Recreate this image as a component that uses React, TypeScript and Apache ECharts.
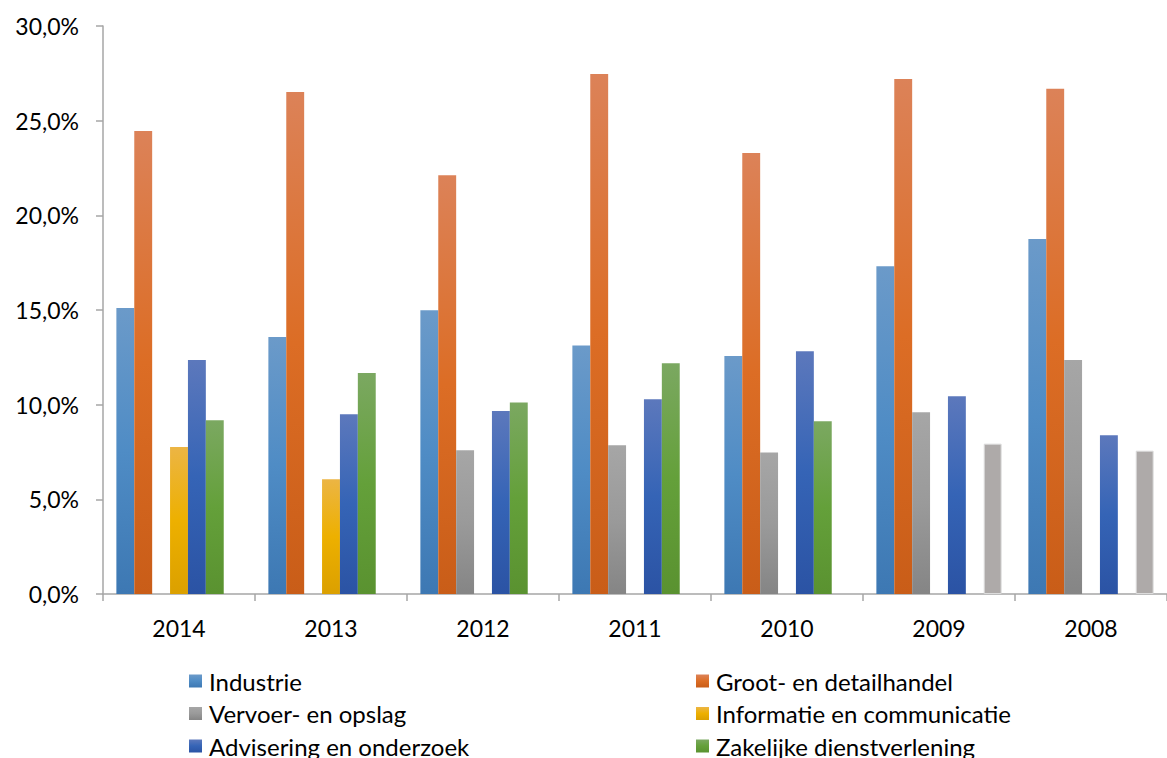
import React, { useEffect, useRef } from "react";
import * as echarts from "echarts";

const categories = ["2014", "2013", "2012", "2011", "2010", "2009", "2008"];

const seriesNames = [
  "Industrie",
  "Groot- en detailhandel",
  "Vervoer- en opslag",
  "Informatie en communicatie",
  "Advisering en onderzoek",
  "Zakelijke dienstverlening",
  "Overig",
];

const industrie = [15.1, 13.57, 14.99, 13.13, 12.57, 17.31, 18.75];
const grootDetailhandel = [24.46, 26.51, 22.12, 27.47, 23.29, 27.2, 26.68];
const vervoerOpslag = [null, null, 7.59, 7.86, 7.48, 9.6, 12.36];
const informatieCommunicatie = [7.76, 6.06, null, null, null, null, null];
const adviseringOnderzoek = [12.36, 9.49, 9.66, 10.29, 12.82, 10.45, 8.38];
const zakelijkeDienstverlening = [9.18, 11.67, 10.12, 12.19, 9.12, null, null];
const overig = [null, null, null, null, null, 7.94, 7.57];

const yTicks = { min: 0, max: 30, interval: 5 };

const FONT = "Lato, 'Open Sans', sans-serif";

const grad = (top: string, mid: string, bottom: string) =>
  new echarts.graphic.LinearGradient(0, 0, 0, 1, [
    { offset: 0, color: top },
    { offset: 0.5, color: mid },
    { offset: 1, color: bottom },
  ]);

export default function App() {
  const ref = useRef<HTMLDivElement>(null);

  useEffect(() => {
    if (!ref.current) return;
    const chart = echarts.init(ref.current, undefined, { renderer: "svg" });

    const fills = [
      grad("#6b9ac9", "#4f8cc5", "#3d78b3"),
      grad("#dc8258", "#dc6d25", "#c95d18"),
      grad("#a6a6a6", "#9a9a9a", "#858585"),
      grad("#ecb544", "#edb000", "#dba000"),
      grad("#5c78bc", "#3564b6", "#2b53a4"),
      grad("#7ba861", "#64a03a", "#5a9230"),
      "#aeaaa9",
    ];
    const legendColors = ["#4f8cc5", "#d8692a", "#959595", "#e8af1a", "#3962b0", "#669c40", "#aeaaa9"];
    const dataSets = [
      industrie,
      grootDetailhandel,
      vervoerOpslag,
      informatieCommunicatie,
      adviseringOnderzoek,
      zakelijkeDienstverlening,
      overig,
    ];

    const legendText = { color: "#000", fontSize: 24, fontFamily: FONT, padding: [0, 0, 0, 2] };
    // row-major, two columns (Excel legend order); the 7th item is below the visible page
    const legendPos = [
      [189, 669],
      [696, 669],
      [189, 701.5],
      [696, 701.5],
      [189, 734],
      [696, 734],
    ];

    chart.setOption({
      animation: false,
      grid: { left: 103, right: 0, top: 26, bottom: 164, containLabel: false },
      legend: legendPos.map(([left, top], i) => ({
        orient: "horizontal",
        left,
        top,
        itemWidth: 13,
        itemHeight: 13,
        itemGap: 0,
        padding: 0,
        icon: "rect",
        textStyle: legendText,
        data: [seriesNames[i]],
        selectedMode: false,
      })),
      xAxis: {
        type: "category",
        data: categories,
        axisLine: { show: true, lineStyle: { color: "#a6a6a6", width: 1.5 } },
        axisTick: { show: true, length: 7, alignWithLabel: false, lineStyle: { color: "#a6a6a6", width: 1.5 } },
        axisLabel: { color: "#000", fontSize: 23, fontFamily: FONT, margin: 22 },
        splitLine: { show: false },
      },
      yAxis: {
        type: "value",
        min: yTicks.min,
        max: yTicks.max,
        interval: yTicks.interval,
        axisLine: { show: true, lineStyle: { color: "#a6a6a6", width: 1.5 } },
        axisTick: { show: true, length: 7, lineStyle: { color: "#a6a6a6", width: 1.5 } },
        axisLabel: {
          color: "#000",
          fontSize: 23,
          fontFamily: FONT,
          margin: 24,
          formatter: (v: number) => v.toFixed(1).replace(".", ",") + "%",
        },
        splitLine: { show: false },
      },
      series: seriesNames.map((name, i) => ({
        name,
        type: "bar",
        data: dataSets[i],
        barGap: "0%",
        barCategoryGap: "17.6%",
        color: legendColors[i],
        itemStyle:
          i === 6
            ? { color: fills[i], borderColor: "#dcdcdc", borderWidth: 1 }
            : { color: fills[i] },
      })),
    });

    return () => chart.dispose();
  }, []);

  return (
    <div
      ref={ref}
      style={{ position: "absolute", left: 0, top: 0, width: 1167, height: 758, background: "#fff" }}
    />
  );
}
